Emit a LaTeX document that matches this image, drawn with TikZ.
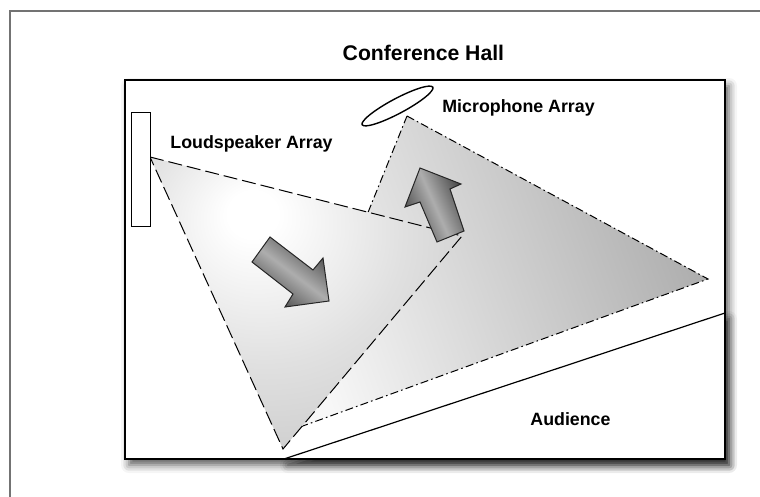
\documentclass[tikz,border=0pt]{standalone}
\usepackage{fontspec}
\setmainfont{Liberation Sans}
\usetikzlibrary{shadows.blur}

% sfumatura radiale del cono degli altoparlanti
\pgfdeclareradialshading{spkglow}{\pgfpoint{-9bp}{16bp}}{color(0bp)=(white); color(4bp)=(white); color(22bp)=(black!12); color(45bp)=(black!24); color(80bp)=(black!42)}

\tikzset{
  lbl/.style={font=\fontsize{8.9}{10}\selectfont\bfseries, inner sep=0pt},
  titlelbl/.style={font=\fontsize{10.6}{12}\selectfont\bfseries, inner sep=0pt},
  spkedge/.style={draw=black, line width=0.5pt, dash pattern=on 7pt off 2.5pt},
  micedge/.style={draw=black, line width=0.5pt, dash pattern=on 4pt off 1.6pt on 0.8pt off 1.6pt},
  bigarrow/.style={draw=black!85, line width=0.5pt, top color=black!72, bottom color=black!72, middle color=black!32},
  hallshadow/.style={blur shadow={shadow xshift=2pt, shadow yshift=-3pt, shadow blur radius=4pt, shadow opacity=65}}
}

\begin{document}
\begin{tikzpicture}[x=0.5pt, y=-0.5pt]
\clip (0,0) rectangle (760,497);

% cornice
\draw[black!55, line width=0.8pt] (10,520) -- (10,11) -- (780,11);

% titolo
\node[titlelbl, anchor=base] (title) at (423.4,60.7) {Conference Hall};

% punti
\coordinate (S1) at (150,157);
\coordinate (S2) at (462,236);
\coordinate (S3) at (283,449);
\coordinate (M1) at (407,116);
\coordinate (M2) at (708,279);
\coordinate (M3) at (278,435);
\coordinate (A1) at (284,459);
\coordinate (A2) at (725,313);

% sala
\fill[white, hallshadow] (A1) -- (A2) -- (725,459) -- cycle;
\filldraw[fill=white, draw=black, line width=0.8pt, hallshadow] (125,80) rectangle (725,459);

% cono dei microfoni
\shade[micedge, left color=black!3, right color=black!32, shading angle=110] (M1) -- (M2) -- (M3) -- cycle;

% cono degli altoparlanti
\shade[spkedge, shading=spkglow] (S1) -- (S2) -- (S3) -- cycle;

% pubblico
\draw[line width=0.6pt] (A1) -- (A2);

% altoparlanti e microfoni
\filldraw[fill=white, line width=0.5pt] (131,113) rectangle (150,227);
\draw[line width=0.7pt, rotate around={28:(397.5,106)}] (397.5,106) ellipse (40 and 7.5);

% frecce
\shade[bigarrow, shading angle=-37] (270,237) -- (313,270) -- (323,258) -- (329,301) -- (285,307) -- (293,294) -- (252,262) -- cycle;
\shade[bigarrow, shading angle=114] (420,168) -- (461,184) -- (450,189) -- (464,231) -- (437,242) -- (420,202) -- (405,207) -- cycle;

% etichette
\node[lbl, anchor=base west] (spklabel) at (170,149) {Loudspeaker Array};
\node[lbl, anchor=base west] (miclabel) at (442,113) {Microphone Array};
\node[lbl, anchor=base west] (audlabel) at (530,425) {Audience};

\end{tikzpicture}
\end{document}
